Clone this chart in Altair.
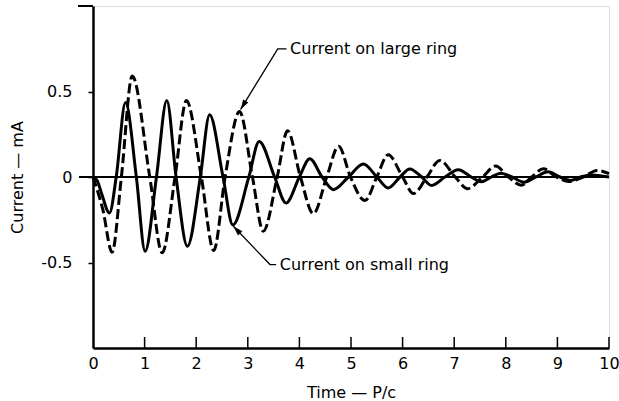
import altair as alt
import pandas as pd

# Current on small ring (solid)
small_t = [0, 0.08, 0.16, 0.32, 0.45, 0.63, 0.84, 1.01, 1.23, 1.43, 1.61, 1.83, 2.08, 2.26,
           2.52, 2.71, 3.02, 3.22, 3.52, 3.74, 4.0, 4.2, 4.44, 4.66, 4.95, 5.24, 5.50, 5.72,
           5.95, 6.14, 6.37, 6.56, 6.82, 7.08, 7.33, 7.53, 7.72, 7.9, 8.12, 8.35, 8.58, 8.82,
           9.05, 9.25, 9.45, 9.65, 10.0]
small_i = [0, -0.02, -0.09, -0.21, 0, 0.435, 0, -0.434, 0, 0.447, 0, -0.405, 0, 0.364,
           0, -0.28, 0, 0.208, 0, -0.152, 0, 0.107, 0, -0.074, 0, 0.076, 0, -0.064,
           0, 0.047, 0, -0.049, 0, 0.043, 0, -0.028, 0, 0.022, 0, -0.03, 0, 0.03,
           0, -0.02, 0, 0.012, 0.0]

# Current on large ring (dashed)
large_t = [0, 0.19, 0.37, 0.55, 0.76, 1.10, 1.34, 1.59, 1.81, 2.10, 2.34, 2.56, 2.84, 3.09,
           3.30, 3.57, 3.77, 4.02, 4.27, 4.53, 4.76, 4.99, 5.27, 5.50, 5.72, 6.0, 6.21, 6.47,
           6.72, 7.02, 7.26, 7.55, 7.80, 8.05, 8.30, 8.50, 8.73, 8.98, 9.22, 9.50, 9.77, 10.0]
large_i = [0, -0.19, -0.44, 0, 0.59, 0, -0.443, 0, 0.447, 0, -0.43, 0, 0.383, 0,
           -0.317, 0, 0.27, 0, -0.214, 0, 0.18, 0, -0.138, 0, 0.13, 0, -0.097, 0,
           0.097, 0, -0.068, 0, 0.064, 0, -0.048, 0, 0.048, 0, -0.026, 0, 0.038, 0.02]

x_ticks = [1, 2, 3, 4, 5, 6, 7, 8, 9, 10]
y_ticks = [-0.5, 0, 0.5]

# annotations
ann_text = ["Current on large ring", "Current on small ring"]
ann_tx = [3.82, 3.62]
ann_ty = [0.749, -0.512]
lead_id = ["large", "large", "large", "small", "small", "small"]
lead_ord = [0, 1, 2, 0, 1, 2]
lead_x = [3.75, 3.58, 2.86, 3.55, 3.43, 2.72]
lead_y = [0.749, 0.749, 0.395, -0.512, -0.512, -0.288]
tip_x = [2.86, 2.72]
tip_y = [0.395, -0.288]
tip_ang = [211.4, 316.2]

FONT = "DejaVu Sans"
FS = 16

df_small = pd.DataFrame({"t": small_t, "i": small_i})
df_large = pd.DataFrame({"t": large_t, "i": large_i})
df_xt = pd.DataFrame({"v": x_ticks})
df_txt = pd.DataFrame({"x": ann_tx, "y": ann_ty, "txt": ann_text})
df_lead = pd.DataFrame({"id": lead_id, "o": lead_ord, "x": lead_x, "y": lead_y})
df_tip = pd.DataFrame({"x": tip_x, "y": tip_y, "a": tip_ang})

xscale = alt.Scale(domain=[0, 10], nice=False, zero=False)
yscale = alt.Scale(domain=[-1, 1], nice=False, zero=False)

xaxis = alt.Axis(values=list(range(0, 11)), ticks=False, grid=False, domainColor="black",
                 domainWidth=2.5, labelFontSize=FS, labelFont=FONT, labelColor="black",
                 labelPadding=7, labelFlush=False, labelOverlap=False,
                 title="Time — P/c", titleFont=FONT, titleFontSize=FS,
                 titleFontWeight="normal", titleColor="black", titlePadding=13, format="d")
yaxis = alt.Axis(values=y_ticks, grid=False, domainColor="black", domainWidth=2.5,
                 tickColor="black", tickWidth=1.5, tickSize=5, labelFontSize=FS,
                 labelFont=FONT, labelColor="black", labelPadding=16,
                 labelExpr="datum.value == 0 ? '0' : (datum.value < 0 ? '-0.5' : '0.5')",
                 title="Current — mA", titleFont=FONT, titleFontSize=FS,
                 titleFontWeight="normal", titleColor="black", titlePadding=15)

small = alt.Chart(df_small).mark_line(interpolate="monotone", color="black", strokeWidth=3).encode(
    x=alt.X("t:Q", scale=xscale, axis=xaxis),
    y=alt.Y("i:Q", scale=yscale, axis=yaxis),
)
large = alt.Chart(df_large).mark_line(interpolate="monotone", color="black", strokeWidth=3,
                                      strokeDash=[10, 4]).encode(
    x="t:Q", y="i:Q"
)

zero_line = alt.Chart(df_xt).mark_rule(color="black", strokeWidth=1.5, xOffset=-14).encode(
    x=alt.datum(0), x2=alt.datum(10), y=alt.datum(0)
)
top_tick = alt.Chart(df_xt).mark_rule(color="black", strokeWidth=1.5, xOffset=-15).encode(
    x=alt.datum(0), x2=alt.datum(0), y=alt.datum(1)
)
xt = alt.Chart(df_xt).mark_rule(color="black", strokeWidth=1.5, y2Offset=-11).encode(
    x="v:Q", y=alt.datum(-1), y2=alt.datum(-1)
)

leads = alt.Chart(df_lead).mark_line(color="black", strokeWidth=1.3).encode(
    x="x:Q", y="y:Q", detail="id:N", order="o:Q"
)
tips = alt.Chart(df_tip).mark_point(shape="M0,0L-0.55,1.8L0.55,1.8Z", filled=True, color="black",
                                    opacity=1, size=121).encode(
    x="x:Q", y="y:Q", angle=alt.Angle("a:Q", scale=None)
)
texts = alt.Chart(df_txt).mark_text(align="left", baseline="middle", font=FONT, fontSize=FS,
                                    color="black").encode(
    x="x:Q", y="y:Q", text="txt:N"
)

chart = alt.layer(small, large, zero_line, top_tick, xt, leads, tips, texts).properties(
    width=516, height=342,
    padding={"left": 93, "top": 6, "right": 10, "bottom": 53},
    autosize=alt.AutoSizeParams(type="none"),
).configure_view(stroke=None).configure(background="white")

chart.save("out.html", embed_options={"renderer": "svg", "actions": False})
